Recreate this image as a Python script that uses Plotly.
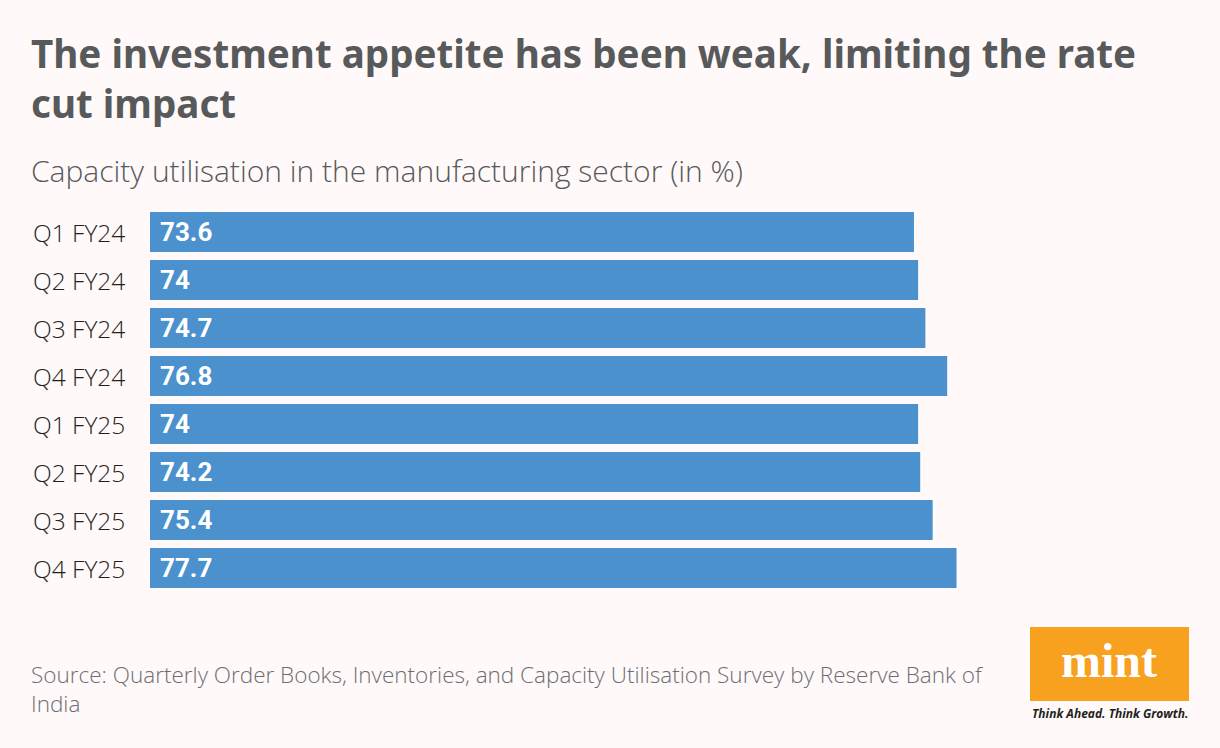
import plotly.graph_objects as go

categories = ["Q1 FY24", "Q2 FY24", "Q3 FY24", "Q4 FY24", "Q1 FY25", "Q2 FY25", "Q3 FY25", "Q4 FY25"]
values = [73.6, 74, 74.7, 76.8, 74, 74.2, 75.4, 77.7]
value_labels = ["73.6", "74", "74.7", "76.8", "74", "74.2", "75.4", "77.7"]

title_text = "The investment appetite has been weak, limiting the rate<br>cut impact"
subtitle_text = "Capacity utilisation in the manufacturing sector (in %)"
source_text = "Source: Quarterly Order Books, Inventories, and Capacity Utilisation Survey by Reserve Bank of<br>India"

W, H = 1220, 748
ML, MR, MT, MB = 150, 32, 208, 156
PW = W - ML - MR
PH = H - MT - MB


def px(x):
    return (x - ML) / PW


def py(y):
    return (H - MB - y) / PH


BG = "#fff9f9"
BAR = "#4b91cd"

fig = go.Figure()
fig.add_trace(go.Bar(
    x=values, y=categories, orientation="h",
    marker=dict(color=BAR, line=dict(width=0)),
    hoverinfo="skip",
))

annotations = [
    dict(text="<b>" + title_text + "</b>", x=px(29), y=py(78), xref="paper", yref="paper",
         xanchor="left", yanchor="middle", align="left", showarrow=False,
         font=dict(family="Noto Sans", size=38.6, color="#58595b")),
    dict(text=subtitle_text, x=px(29), y=py(170), xref="paper", yref="paper",
         xanchor="left", yanchor="middle", align="left", showarrow=False,
         font=dict(family="Open Sans", size=30, color="#58595b", weight=300)),
    dict(text=source_text, x=px(29), y=py(689), xref="paper", yref="paper",
         xanchor="left", yanchor="middle", align="left", showarrow=False,
         font=dict(family="Open Sans", size=22.5, color="#6d6e71", weight=300)),
    dict(text="<b>mint</b>", x=px(1109), y=py(660), xref="paper", yref="paper",
         xanchor="center", yanchor="middle", showarrow=False,
         font=dict(family="Liberation Serif", size=48, color="white")),
    dict(text="<b><i>Think Ahead. Think Growth.</i></b>", x=px(1110), y=py(713), xref="paper", yref="paper",
         xanchor="center", yanchor="middle", showarrow=False,
         font=dict(family="Open Sans", size=12, color="#231f20")),
]
for c in categories:
    annotations.append(dict(text=c, x=px(31), y=c, xref="paper", yref="y",
                            xanchor="left", yanchor="middle", showarrow=False,
                            font=dict(family="Open Sans", size=24.5, color="#231f20", weight=300)))
for c, lab in zip(categories, value_labels):
    annotations.append(dict(text="<b>" + lab + "</b>", x=0, y=c, xref="x", yref="y",
                            xanchor="left", yanchor="middle", xshift=8, showarrow=False,
                            font=dict(family="Roboto", size=26, color="white")))

fig.update_layout(
    width=W, height=H,
    margin=dict(l=ML, r=MR, t=MT, b=MB),
    paper_bgcolor=BG, plot_bgcolor=BG,
    showlegend=False,
    bargap=0.167,
    xaxis=dict(range=[0, 100], visible=False, fixedrange=True),
    yaxis=dict(categoryorder="array", categoryarray=categories, autorange="reversed",
               visible=False, fixedrange=True),
    annotations=annotations,
    shapes=[dict(type="rect", xref="paper", yref="paper", x0=px(1030), x1=px(1189),
                 y0=py(701), y1=py(627), fillcolor="#f7a11f", line=dict(width=0), layer="below")],
)

fig.write_html("out.html", config={"displayModeBar": False},
               post_script="document.body.style.margin='0';document.body.style.background='#fff9f9';")
